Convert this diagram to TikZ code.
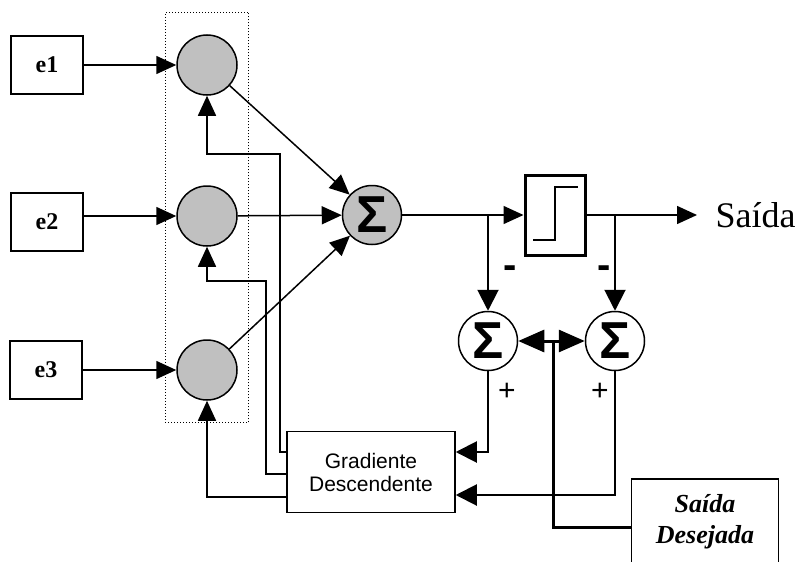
\documentclass[tikz,border=0pt]{standalone}
\usepackage{fontspec}
\setmainfont{Liberation Serif}
\setsansfont{Liberation Sans}
\usepackage{tikz}
\usetikzlibrary{arrows.meta,fit,positioning}
\definecolor{palet1}{HTML}{C0C0C0}
\colorlet{cneuron}{palet1}
\tikzset{
  inbox/.style={draw, line width=1.5pt, minimum width=72pt, minimum height=58pt,
    font=\fontsize{24}{26}\selectfont\bfseries},
  neuron/.style={circle, draw, line width=1.5pt, fill=cneuron, minimum size=60pt},
  sumnode/.style={circle, draw, line width=1.5pt, fill=white, minimum size=59pt, inner sep=0pt,
    font=\sffamily\bfseries\fontsize{52}{52}\selectfont},
  stepbox/.style={draw, line width=3pt, minimum width=60pt, minimum height=80pt},
  gradbox/.style={draw, line width=1.5pt, minimum width=168pt, minimum height=81pt, align=center,
    font=\sffamily\fontsize{21}{23}\selectfont},
  desbox/.style={draw, line width=1.5pt, minimum width=147pt, minimum height=86pt, align=center,
    font=\fontsize{26}{31}\selectfont\bfseries\itshape},
  sign/.style={font=\sffamily\fontsize{30}{30}\selectfont},
  minus/.style={font=\sffamily\bfseries\fontsize{40}{40}\selectfont},
  arr/.style={-{Triangle[length=20pt,width=18pt]}, line width=1.5pt},
  rarr/.style={-{Triangle[length=21pt,width=21pt]}, line width=2pt},
  bigarr/.style={{Triangle[length=26pt,width=22pt]}-{Triangle[length=26pt,width=22pt]}, line width=3pt}
}
\begin{document}
\begin{tikzpicture}[x=1pt, y=-1pt]
  \useasboundingbox (0,0) rectangle (801,562);
  \path
  (47,65) node[inbox] (e1) {e1}
  (47,222) node[inbox] (e2) {e2}
  (46,370) node[inbox] (e3) {e3}
  (207,65) node[neuron] (c1) {}
  (207,216) node[neuron] (c2) {}
  (207,370) node[neuron] (c3) {}
  (372,215) node[sumnode, fill=cneuron] (s1) {Σ}
  (555,215) node[stepbox] (step) {}
  (488,341) node[sumnode] (s2) {Σ}
  (615,341) node[sumnode] (s3) {Σ}
  (371,472) node[gradbox] (grad) {Gradiente\\Descendente}
  (705,522) node[desbox] (des) {Saída\\Desejada}
  (712,215) node[anchor=west, font=\fontsize{36}{36}\selectfont] (saida) {Saída}
  (510,272) node[minus] (m2) {-}
  (604,272) node[minus] (m3) {-}
  (507,392) node[sign] (p2) {+}
  (600,392) node[sign] (p3) {+}
  (488,215) coordinate (b1)
  (615,215) coordinate (b2)
  (697,215) coordinate (tip)
  (553,341) coordinate (j)
  ;
  \node[draw, dotted, line width=1pt, fit=(c1)(c3), inner xsep=11pt, inner ysep=22pt] (layer) {};
  \draw[line width=2pt] (533,240) -- (555,240) -- (555,187) -- (578,187);

  \draw[arr] (e1) -- (c1);
  \draw[arr] (e2.east |- c2) -- (c2);
  \draw[arr] (e3) -- (c3);
  \draw[arr] (c1) -- (s1);
  \draw[arr] (c2) -- (s1);
  \draw[arr] (c3) -- (s1);
  \draw[arr] (s1) -- (step);
  \draw[arr] (step) -- (tip);
  \draw[rarr] (b1) -- (s2);
  \draw[rarr] (b2) -- (s3);
  \draw[bigarr] (s2) -- (s3);
  \draw[line width=3pt] (j) |- (des.west |- 0,527);
  \draw[rarr] (s2) |- (grad.east |- 0,452);
  \draw[rarr] (s3) |- (grad.east |- 0,495);
  \draw[arr] (grad.west |- 0,497) -| (c3);
  \draw[arr] (grad.west |- 0,474) -- (266,474) |- (207,281) -- (c2);
  \draw[arr] (grad.west |- 0,452) -- (280,452) |- (207,154) -- (c1);
\end{tikzpicture}
\end{document}
